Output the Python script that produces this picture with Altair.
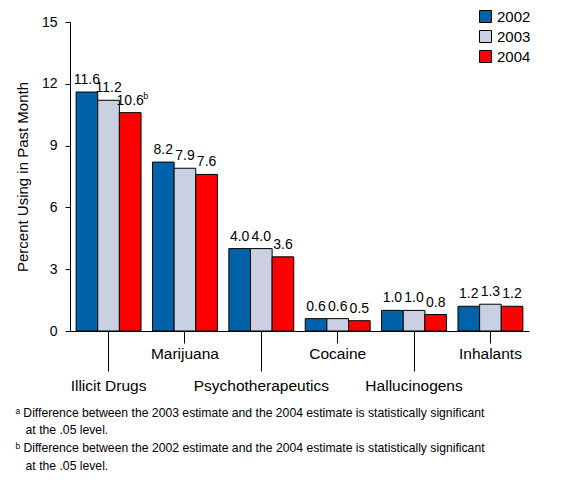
import altair as alt
import pandas as pd

FONT = "Liberation Sans"

categories = ["Illicit Drugs", "Marijuana", "Psychotherapeutics", "Cocaine", "Hallucinogens", "Inhalants"]
years = ["2002", "2003", "2004"]
v2002 = [11.6, 8.2, 4.0, 0.6, 1.0, 1.2]
v2003 = [11.2, 7.9, 4.0, 0.6, 1.0, 1.3]
v2004 = [10.6, 7.6, 3.6, 0.5, 0.8, 1.2]
sup2004 = ["b", "", "", "", "", ""]
lower_row = ["Illicit Drugs", "Psychotherapeutics", "Hallucinogens"]
colors = ["#0062A8", "#C8D0E2", "#FF0000"]
footnotes = [
    "\u1d43 Difference between the 2003 estimate and the 2004 estimate is statistically significant",
    "\u200b\u00a0\u00a0\u00a0at the .05 level.",
    "\u1d47 Difference between the 2002 estimate and the 2004 estimate is statistically significant",
    "\u200b\u00a0\u00a0\u00a0at the .05 level.",
]

rows = []
for i, c in enumerate(categories):
    for y, vals in zip(years, [v2002, v2003, v2004]):
        rows.append({
            "category": c,
            "year": y,
            "value": vals[i],
            "label": f"{vals[i]:.1f}",
            "sup": sup2004[i] if y == "2004" else "",
        })
df = pd.DataFrame(rows)

test = "indexof(" + str(lower_row) + ", datum.value) >= 0"

x = alt.X(
    "category:N",
    sort=categories,
    scale=alt.Scale(paddingInner=0.15, paddingOuter=0.08),
    axis=alt.Axis(
        title=None,
        labelAngle=0,
        labelFont=FONT,
        labelFontSize=15.5,
        labelColor="black",
        labelOverlap=False,
        labelBaseline="top",
        domainColor="black",
        tickColor="black",
        tickSize={"condition": {"test": test, "value": 40}, "value": 12},
        labelPadding={"condition": {"test": test, "value": 7}, "value": 3},
    ),
)
xoff = alt.XOffset("year:N", sort=years, scale=alt.Scale(paddingInner=0, paddingOuter=0))
y = alt.Y(
    "value:Q",
    scale=alt.Scale(domain=[0, 15]),
    axis=alt.Axis(
        title="Percent Using in Past Month",
        values=[0, 3, 6, 9, 12, 15],
        grid=False,
        labelFont=FONT,
        labelFontSize=14,
        labelColor="black",
        labelPadding=8,
        tickSize=5,
        tickColor="black",
        domainColor="black",
        titleFont=FONT,
        titleFontSize=15,
        titleFontWeight="normal",
        titleColor="black",
        titlePadding=11,
    ),
)

base = alt.Chart(df).encode(x=x, xOffset=xoff, y=y)

bars = base.mark_bar(stroke="black", strokeWidth=1).encode(
    fill=alt.Fill(
        "year:N",
        sort=years,
        scale=alt.Scale(domain=years, range=colors),
        legend=alt.Legend(
            title=None,
            orient="none",
            legendX=408,
            legendY=-13,
            symbolType="square",
            symbolSize=144,
            symbolStrokeColor="black",
            symbolStrokeWidth=1,
            labelFont=FONT,
            labelFontSize=15,
            labelColor="black",
            rowPadding=3,
        ),
    )
)

labels = base.mark_text(baseline="bottom", dy=-5, font=FONT, fontSize=14, color="black").encode(
    text="label:N"
)

sups = base.transform_filter("datum.sup != ''").mark_text(
    baseline="bottom", align="left", dx=13, dy=-12, font=FONT, fontSize=9, color="black"
).encode(text="sup:N")

chart = (
    alt.layer(bars, labels, sups)
    .properties(
        width=459,
        height=309,
        padding={"top": 1, "left": 7, "right": 5, "bottom": 5},
        title=alt.TitleParams(
            text=footnotes,
            orient="bottom",
            anchor="start",
            frame="bounds",
            font=FONT,
            fontSize=12.2,
            fontWeight="normal",
            color="black",
            lineHeight=17.7,
            offset=13,
        ),
    )
    .configure_view(stroke=None)
)

chart.save("out.html", embed_options={"renderer": "svg", "actions": False})
